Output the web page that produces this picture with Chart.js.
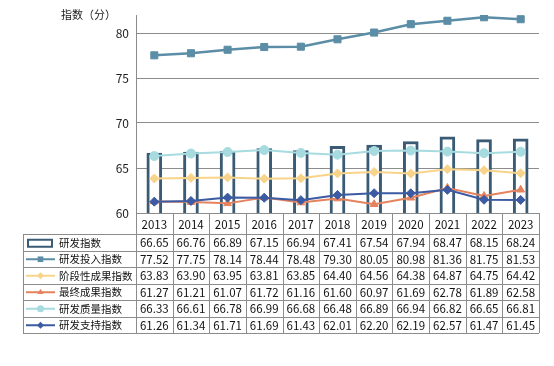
<!DOCTYPE html>
<html>
<head>
<meta charset="utf-8">
<script src="https://cdn.jsdelivr.net/npm/chart.js@4/dist/chart.umd.min.js"></script>
<style>
html,body{margin:0;padding:0;background:#fff;}
#wrap{width:554px;height:366px;position:relative;}
</style>
</head>
<body>
<div id="wrap"><canvas id="c" width="554" height="366"></canvas></div>
<script>
const years = ['2013','2014','2015','2016','2017','2018','2019','2020','2021','2022','2023'];
const rdIndex = [66.65,66.76,66.89,67.15,66.94,67.41,67.54,67.94,68.47,68.15,68.24];
const rdInput = [77.52,77.75,78.14,78.44,78.48,79.30,80.05,80.98,81.36,81.75,81.53];
const stageResult = [63.83,63.90,63.95,63.81,63.85,64.40,64.56,64.38,64.87,64.75,64.42];
const finalResult = [61.27,61.21,61.07,61.72,61.16,61.60,60.97,61.69,62.78,61.89,62.58];
const rdQuality = [66.33,66.61,66.78,66.99,66.68,66.48,66.89,66.94,66.82,66.65,66.81];
const rdSupport = [61.26,61.34,61.71,61.69,61.43,62.01,62.20,62.19,62.57,61.47,61.45];
const seriesNames = ['研发指数','研发投入指数','阶段性成果指数','最终成果指数','研发质量指数','研发支持指数'];
const yTicks = [60,65,70,75,80];
const yTitle = '指数（分）';

const FONT = '"Noto Sans CJK SC", "Noto Sans", sans-serif';
const GRID = '#8c8c8c';

function lineDs(label, data, color, style, radius, width, order) {
  return {
    type: 'line', label, data, borderColor: color, backgroundColor: color,
    pointBackgroundColor: color, pointBorderColor: color, pointBorderWidth: 1,
    pointStyle: style, pointRadius: radius, borderWidth: width, order,
    tension: 0
  };
}

const datasets = [
  { type: 'bar', label: seriesNames[0], data: rdIndex, backgroundColor: '#ffffff',
    borderColor: '#3b5b74', borderWidth: 3, barThickness: 15, order: 10 },
  lineDs(seriesNames[1], rdInput, '#5b8ea6', 'rect', 5, 2.5, 5),
  lineDs(seriesNames[2], stageResult, '#f8d48a', 'rectRot', 4.5, 2, 4),
  lineDs(seriesNames[3], finalResult, '#e5835f', 'triangle', 4.5, 2, 3),
  lineDs(seriesNames[4], rdQuality, '#a6dbe0', 'circle', 4.5, 2, 2),
  lineDs(seriesNames[5], rdSupport, '#3c5ba3', 'rectRot', 4.5, 2, 1)
];

function drawMarker(ctx, style, x, y, r, color) {
  ctx.save();
  ctx.fillStyle = color;
  ctx.beginPath();
  if (style === 'rect') {
    const s = Math.SQRT1_2 * r;
    ctx.rect(x - s, y - s, 2 * s, 2 * s);
  } else if (style === 'rectRot') {
    ctx.moveTo(x, y - r); ctx.lineTo(x + r, y); ctx.lineTo(x, y + r); ctx.lineTo(x - r, y); ctx.closePath();
  } else if (style === 'triangle') {
    ctx.moveTo(x, y - r); ctx.lineTo(x + r * 0.87, y + r * 0.5); ctx.lineTo(x - r * 0.87, y + r * 0.5); ctx.closePath();
  } else {
    ctx.arc(x, y, r, 0, Math.PI * 2);
  }
  ctx.fill();
  ctx.restore();
}

const tablePlugin = {
  id: 'tablePlugin',
  afterDraw(chart) {
    const ctx = chart.ctx;
    const xs = chart.scales.x;
    const ca = chart.chartArea;
    const n = years.length;
    const cw = (ca.right - ca.left) / n;
    const headTop = ca.bottom, headBot = ca.bottom + 21;
    const rowH = 16.5;
    const tblLeft = 23;
    const nRows = datasets.length;
    const tblBot = headBot + rowH * nRows;
    ctx.save();
    // y-axis title
    ctx.fillStyle = '#222';
    ctx.font = '11px ' + FONT;
    ctx.textAlign = 'right';
    ctx.textBaseline = 'middle';
    ctx.fillText(yTitle, 116, 15);

    // grid lines
    ctx.strokeStyle = GRID;
    ctx.lineWidth = 1;
    ctx.beginPath();
    ctx.moveTo(ca.left, headTop + 0.5); ctx.lineTo(ca.right, headTop + 0.5);
    for (let r = 0; r <= nRows; r++) {
      const y = Math.round(headBot + r * rowH) + 0.5;
      ctx.moveTo(tblLeft, y); ctx.lineTo(ca.right, y);
    }
    ctx.moveTo(tblLeft + 0.5, headBot); ctx.lineTo(tblLeft + 0.5, tblBot);
    for (let i = 0; i <= n; i++) {
      const x = Math.round(ca.left + i * cw) + 0.5;
      ctx.moveTo(x, headTop); ctx.lineTo(x, tblBot);
    }
    ctx.stroke();

    // header
    ctx.fillStyle = '#111';
    ctx.font = '11.5px ' + FONT;
    ctx.textAlign = 'center';
    ctx.textBaseline = 'middle';
    years.forEach((yr, i) => {
      ctx.fillText(yr, xs.getPixelForValue(i), (headTop + headBot) / 2 + 1);
    });

    // rows
    datasets.forEach((ds, r) => {
      const yc = headBot + r * rowH + rowH / 2 + 0.5;
      if (ds.type === 'bar') {
        ctx.strokeStyle = ds.borderColor;
        ctx.lineWidth = 2;
        ctx.strokeRect(28, yc - 3, 24, 7);
      } else {
        ctx.strokeStyle = ds.borderColor;
        ctx.lineWidth = 2;
        ctx.beginPath(); ctx.moveTo(26, yc); ctx.lineTo(55, yc); ctx.stroke();
        drawMarker(ctx, ds.pointStyle, 40.5, yc, ds.pointStyle === 'rect' ? 4 : 3.5, ds.borderColor);
      }
      ctx.fillStyle = '#111';
      ctx.font = '10.5px ' + FONT;
      ctx.textAlign = 'left';
      ctx.fillText(ds.label, 59, yc);
      ctx.font = '11.5px ' + FONT;
      ctx.textAlign = 'center';
      ds.data.forEach((v, i) => {
        ctx.fillText(v.toFixed(2), xs.getPixelForValue(i), yc);
      });
    });
    ctx.restore();
  }
};

new Chart(document.getElementById('c'), {
  data: { labels: years, datasets },
  options: {
    responsive: false,
    animation: false,
    layout: { padding: { top: 15, right: 15, bottom: 153, left: 0 } },
    plugins: { legend: { display: false }, tooltip: { enabled: false } },
    scales: {
      x: { display: false, offset: true },
      y: {
        min: 60, max: 82,
        afterBuildTicks(scale) { scale.ticks = yTicks.map(v => ({ value: v })); },
        afterFit(scale) { scale.width = 136; },
        ticks: { color: '#222', font: { family: FONT, size: 12 }, padding: 7 },
        grid: { color: GRID, drawTicks: false, lineWidth: 1 },
        border: { color: GRID, width: 1 }
      }
    }
  },
  plugins: [tablePlugin]
});
</script>
</body>
</html>
